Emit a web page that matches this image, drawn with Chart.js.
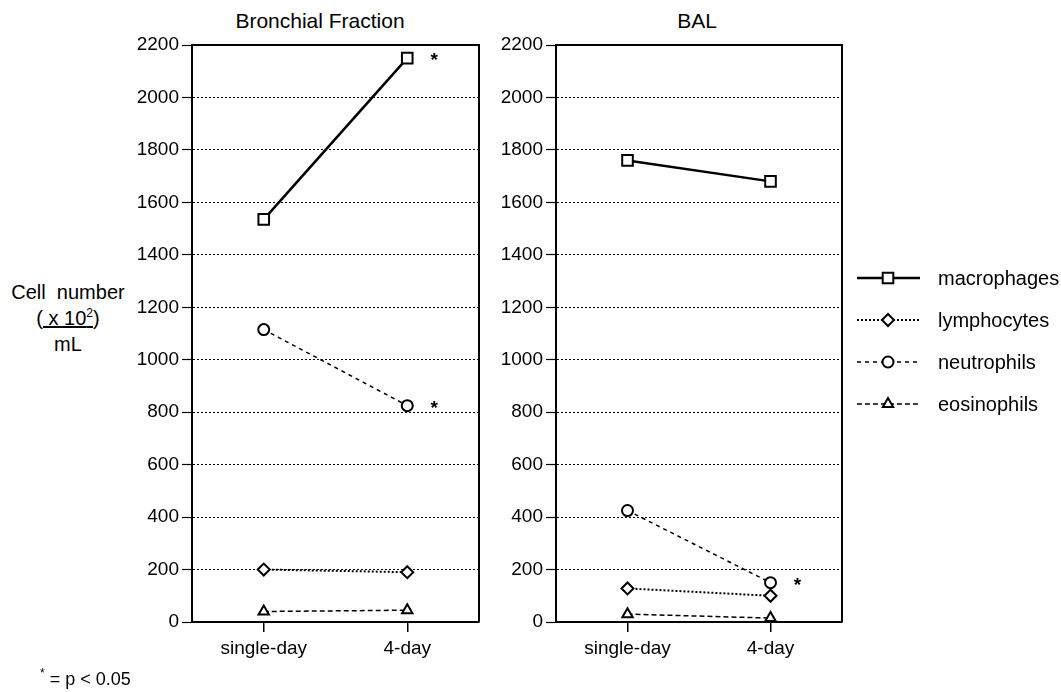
<!DOCTYPE html>
<html>
<head>
<meta charset="utf-8">
<script src="https://cdn.jsdelivr.net/npm/chart.js@4.4.1/dist/chart.umd.min.js"></script>
<style>
  body { margin: 0; width: 1061px; height: 692px; background: #fff; overflow: hidden; position: relative;
         font-family: "Liberation Sans", Arial, sans-serif; color: #000; }
  .box { position: absolute; top: 0; height: 692px; }
  .ttl { position: absolute; top: 9px; font-size: 21px; transform: translateX(-50%); white-space: nowrap; }
  #ylab { position: absolute; left: 6px; top: 279px; width: 124px; text-align: center; font-size: 20px; line-height: 26px; }
  #ylab sup, #foot sup { font-size: 12px; vertical-align: 8px; line-height: 0; }
  #foot { position: absolute; left: 40px; top: 669px; font-size: 18px; }
</style>
</head>
<body>
<div class="ttl" style="left:320px">Bronchial Fraction</div>
<div class="ttl" style="left:697px">BAL</div>
<div id="ylab">Cell&nbsp; number<br>(<u>&nbsp;x 10<sup>2</sup></u>)<br>mL</div>
<div class="box" style="left:100px;width:390px"><canvas id="bronchial"></canvas></div>
<div class="box" style="left:470px;width:591px"><canvas id="bal"></canvas></div>
<div id="foot"><sup>*</sup> = p &lt; 0.05</div>

<script>
// categories and series (cell number x10^2 / mL)
const days = ['single-day', '4-day'];
const seriesNames = ['macrophages', 'lymphocytes', 'neutrophils', 'eosinophils'];

const bronchMacro = [1535, 2150];
const bronchLympho = [200, 190];
const bronchNeutro = [1115, 825];
const bronchEosino = [40, 45];

const balMacro = [1760, 1680];
const balLympho = [128, 100];
const balNeutro = [425, 150];
const balEosino = [30, 15];

const yTicksMax = 2200;
const yTicksStep = 200;

// series marked * (p < 0.05) at 4-day
const starsBronchial = ['macrophages', 'neutrophils'];
const starsBAL = ['neutrophils'];

const FONT = '"Liberation Sans", Arial, sans-serif';
Chart.defaults.font.family = FONT;
Chart.defaults.font.size = 19;
Chart.defaults.color = '#000';

const looks = {
  macrophages: { dash: [], width: 2.5, point: 'rect', r: 7.5 },
  lymphocytes: { dash: [2, 2], width: 2, point: 'rectRot', r: 6 },
  neutrophils: { dash: [4, 4], width: 1.5, point: 'circle', r: 5.5 },
  eosinophils: { dash: [5, 3], width: 1.5, point: 'triangle', r: 6 }
};

function buildSets(values) {
  return seriesNames.map((name, i) => ({
    label: name,
    data: values[i],
    borderColor: '#000',
    borderWidth: looks[name].width,
    borderDash: looks[name].dash,
    pointStyle: looks[name].point,
    pointRadius: looks[name].r,
    pointBorderWidth: 2,
    pointBorderColor: '#000',
    pointBackgroundColor: '#fff',
    tension: 0,
    clip: false
  }));
}

const framePlugin = {
  id: 'frame',
  beforeDatasetsDraw(chart) {
    const { ctx, chartArea: a } = chart;
    ctx.save();
    ctx.strokeStyle = '#000';
    ctx.lineWidth = 2;
    ctx.beginPath();
    ctx.moveTo(a.left, a.top);
    ctx.lineTo(a.right, a.top);
    ctx.lineTo(a.right, a.bottom);
    ctx.stroke();
    ctx.restore();
  }
};

const starPlugin = {
  id: 'stars',
  afterDatasetsDraw(chart, args, opts) {
    const { ctx, scales: { x, y } } = chart;
    ctx.save();
    ctx.font = 'bold 19px ' + FONT;
    ctx.textAlign = 'center';
    ctx.textBaseline = 'middle';
    ctx.fillStyle = '#000';
    (opts.series || []).forEach(name => {
      const ds = chart.data.datasets.find(d => d.label === name);
      const px = x.getPixelForValue(1) + 27;
      const py = y.getPixelForValue(ds.data[1]);
      ctx.fillText('*', px, py + 3);
    });
    ctx.restore();
  }
};

const sideLegend = {
  id: 'sideLegend',
  afterDraw(chart, args, opts) {
    if (!opts.show) return;
    const ctx = chart.ctx;
    chart.data.datasets.forEach((ds, i) => {
      const y = 278 + i * 42;
      ctx.save();
      ctx.strokeStyle = '#000';
      ctx.lineWidth = ds.borderWidth;
      ctx.setLineDash(ds.borderDash);
      ctx.beginPath();
      ctx.moveTo(387, y);
      ctx.lineTo(450, y);
      ctx.stroke();
      ctx.setLineDash([]);
      ctx.lineWidth = 2;
      ctx.fillStyle = '#fff';
      Chart.helpers.drawPoint(ctx, { pointStyle: ds.pointStyle, radius: ds.pointRadius, rotation: 0, borderWidth: 2 }, 418, y);
      ctx.fillStyle = '#000';
      ctx.font = '20px ' + FONT;
      ctx.textBaseline = 'middle';
      ctx.fillText(ds.label, 468, y + 1);
      ctx.restore();
    });
  }
};

function makeChart(id, values, stars, yWidth, padRight, showLegend) {
  return new Chart(document.getElementById(id), {
    type: 'line',
    data: { labels: days, datasets: buildSets(values) },
    plugins: [framePlugin, starPlugin, sideLegend],
    options: {
      responsive: true,
      maintainAspectRatio: false,
      animation: false,
      events: [],
      layout: { padding: { top: 45, bottom: 30, left: 0, right: padRight } },
      plugins: {
        legend: { display: false },
        tooltip: { enabled: false },
        stars: { series: stars },
        sideLegend: { show: showLegend }
      },
      scales: {
        x: {
          offset: true,
          afterFit(s) { s.height = 40; },
          grid: { drawOnChartArea: false, drawTicks: true, tickLength: 10, color: '#000', lineWidth: 1.5 },
          border: { display: true, color: '#000', width: 2 },
          ticks: { padding: 5, font: { size: 19 } }
        },
        y: {
          min: 0,
          max: yTicksMax,
          afterFit(s) { s.width = yWidth; },
          grid: { color: '#000', lineWidth: 1, tickLength: 10, tickBorderDash: [], tickColor: '#000', tickWidth: 1.2 },
          border: { display: true, color: '#000', width: 2, dash: [2, 2] },
          ticks: { stepSize: yTicksStep, padding: 3, font: { size: 19 }, callback: v => String(v) }
        }
      }
    }
  });
}

makeChart('bronchial', [bronchMacro, bronchLympho, bronchNeutro, bronchEosino], starsBronchial, 92, 11, false);
makeChart('bal', [balMacro, balLympho, balNeutro, balEosino], starsBAL, 86, 219, true);
</script>
</body>
</html>
